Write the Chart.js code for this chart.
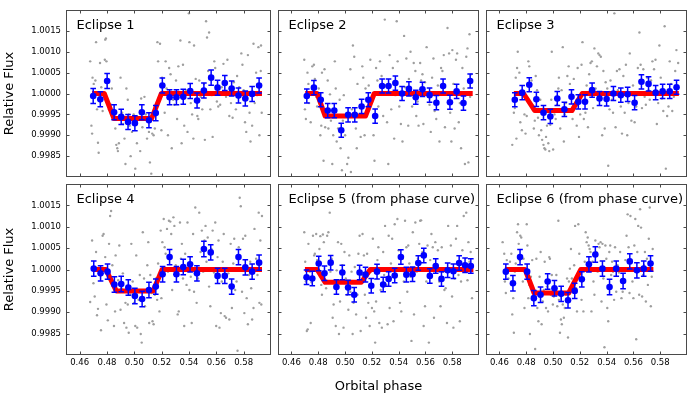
<!DOCTYPE html>
<html>
<head>
<meta charset="utf-8">
<script src="https://cdn.jsdelivr.net/npm/chart.js@4"></script>
<style>
  body { margin: 0; background: #fff; }
  #wrap { position: relative; width: 698px; height: 399px; background: #fff; overflow: hidden; }
  #wrap canvas { position: absolute; }
</style>
</head>
<body>
<div id="wrap"></div>
<script>
// tick labels shared by every panel
var xTicks = [0.46, 0.48, 0.50, 0.52, 0.54, 0.56, 0.58];
var yTicks = [0.9985, 0.9990, 0.9995, 1.0000, 1.0005, 1.0010, 1.0015];
var panelTitles = ["Eclipse 1", "Eclipse 2", "Eclipse 3", "Eclipse 4",
  "Eclipse 5 (from phase curve)", "Eclipse 6 (from phase curve)"];
var binErr = [0.00018, 0.00017, 0.00017, 0.00018, 0.00017, 0.00018];

// binned points (blue)
var binPhase1 = [0.4699,0.4751,0.4801,0.4852,0.4904,0.4954,0.5004,0.5055,0.5107,0.5157,0.5205,0.5258,0.5308,0.5358,0.5409,0.5459,0.5509,0.5562,0.5609,0.5662,0.5712,0.5762,0.5812,0.5862,0.5913];
var binFlux1 = [0.99994,0.99986,1.00030,0.99955,0.99944,0.99932,0.99929,0.99955,0.99936,0.99953,1.00019,0.99991,0.99991,0.99992,1.00006,0.99983,1.00007,1.00038,1.00014,1.00025,1.00012,0.99995,0.99988,0.99999,1.00019];
var binPhase2 = [0.4715,0.4768,0.4819,0.4871,0.4920,0.4972,0.5023,0.5073,0.5124,0.5174,0.5225,0.5277,0.5325,0.5376,0.5426,0.5477,0.5528,0.5578,0.5631,0.5682,0.5732,0.5783,0.5833,0.5884,0.5934];
var binFlux2 = [0.99994,1.00014,0.99985,0.99959,0.99959,0.99912,0.99949,0.99949,0.99969,0.99985,0.99946,1.00018,1.00018,1.00025,1.00000,1.00011,0.99991,1.00010,0.99996,0.99978,1.00018,0.99979,1.00005,0.99977,1.00030];
var binPhase3 = [0.4715,0.4770,0.4823,0.4876,0.4929,0.4980,0.5032,0.5085,0.5138,0.5189,0.5239,0.5292,0.5347,0.5400,0.5451,0.5506,0.5557,0.5609,0.5660,0.5713,0.5766,0.5818,0.5871,0.5922];
var binFlux3 = [0.99985,1.00002,1.00021,0.99986,0.99954,0.99945,0.99988,0.99962,0.99992,0.99980,0.99980,1.00008,0.99988,0.99987,1.00000,0.99996,0.99998,0.99978,1.00028,1.00023,1.00002,1.00005,1.00005,1.00015];
var binPhase4 = [0.4703,0.4753,0.4804,0.4854,0.4904,0.4956,0.5004,0.5057,0.5107,0.5157,0.5207,0.5258,0.5308,0.5358,0.5408,0.5458,0.5509,0.5559,0.5609,0.5662,0.5712,0.5762,0.5812,0.5862,0.5913];
var binFlux4 = [1.00002,0.99991,0.99995,0.99965,0.99966,0.99958,0.99938,0.99931,0.99952,0.99960,0.99989,1.00029,0.99989,1.00006,1.00012,0.99991,1.00048,1.00040,0.99985,0.99985,0.99960,1.00029,1.00005,0.99995,1.00016];
var binPhase5 = [0.4713,0.4756,0.4804,0.4847,0.4893,0.4936,0.4980,0.5023,0.5069,0.5109,0.5153,0.5196,0.5239,0.5285,0.5326,0.5371,0.5417,0.5458,0.5504,0.5547,0.5588,0.5633,0.5677,0.5720,0.5766,0.5809,0.5852,0.5896,0.5939];
var binFlux5 = [0.99982,0.99979,1.00014,0.99991,1.00016,0.99959,0.99993,0.99958,0.99941,0.99993,0.99988,0.99962,0.99995,0.99965,0.99978,0.99986,1.00029,0.99988,0.99989,1.00015,1.00033,0.99985,1.00008,0.99978,0.99998,0.99996,1.00015,1.00010,1.00008];
var binPhase6 = [0.4648,0.4701,0.4754,0.4807,0.4857,0.4907,0.4960,0.5011,0.5061,0.5112,0.5162,0.5215,0.5268,0.5316,0.5369,0.5422,0.5472,0.5523,0.5573,0.5626,0.5677,0.5728];
var binFlux6 = [0.99995,0.99968,1.00029,0.99995,0.99933,0.99941,0.99972,0.99956,0.99943,0.99928,0.99950,0.99977,1.00012,1.00035,1.00002,0.99959,1.00002,0.99973,1.00019,0.99998,1.00002,1.00014];

// eclipse model (red)
var modelPhase1 = [0.4691, 0.4780, 0.4851, 0.5126, 0.5198, 0.5934];
var modelFlux1 = [1.0, 1.0, 0.99940, 0.99940, 1.0, 1.0];
var modelPhase2 = [0.4703, 0.4792, 0.4852, 0.5153, 0.5218, 0.5953];
var modelFlux2 = [1.0, 1.0, 0.99946, 0.99946, 1.0, 1.0];
var modelPhase3 = [0.4708, 0.4780, 0.4864, 0.5141, 0.5218, 0.5939];
var modelFlux3 = [1.0, 1.0, 0.99959, 0.99959, 1.0, 1.0];
var modelPhase4 = [0.4696, 0.4792, 0.4868, 0.5138, 0.5203, 0.5934];
var modelFlux4 = [1.0, 1.0, 0.99950, 0.99950, 1.0, 1.0];
var modelPhase5 = [0.4701, 0.4792, 0.4852, 0.5121, 0.5189, 0.5958];
var modelFlux5 = [1.0, 1.0, 0.99970, 0.99970, 1.0, 1.0];
var modelPhase6 = [0.4641, 0.4792, 0.4859, 0.5117, 0.5208, 0.5749];
var modelFlux6 = [1.0, 1.0, 0.99945, 0.99945, 1.0, 1.0];

// unbinned points (gray)
var grayPhase1 = [0.4677,0.4694,0.4703,0.4686,0.4691,0.4720,0.4715,0.4727,0.4734,0.4739,0.4749,0.4758,0.4768,0.4787,0.4792,0.4784,0.4796,0.4815,0.4830,0.4835,0.4861,0.4868,0.4875,0.4880,0.4887,0.4899,0.4911,0.4918,0.4928,0.4935,0.4942,0.4952,0.4959,0.4966,0.4973,0.4983,0.4995,0.5007,0.5019,0.5031,0.5043,0.5050,0.5059,0.5074,0.5083,0.5093,0.5107,0.5114,0.5124,0.5131,0.5141,0.5150,0.5157,0.5169,0.5174,0.5188,0.5198,0.5203,0.5212,0.5222,0.5229,0.5236,0.5246,0.5255,0.5265,0.5274,0.5284,0.5293,0.5305,0.5313,0.5322,0.5337,0.5346,0.5356,0.5365,0.5377,0.5389,0.5399,0.5403,0.5413,0.5423,0.5432,0.5437,0.5449,0.5461,0.5468,0.5475,0.5485,0.5497,0.5509,0.5516,0.5525,0.5532,0.5540,0.5547,0.5556,0.5566,0.5573,0.5585,0.5592,0.5604,0.5614,0.5628,0.5640,0.5652,0.5664,0.5671,0.5681,0.5695,0.5707,0.5719,0.5728,0.5743,0.5752,0.5767,0.5783,0.5791,0.5800,0.5810,0.5819,0.5831,0.5843,0.5850,0.5862,0.5872,0.5881,0.5891,0.5898,0.5908,0.5915,0.5927,0.5932,0.5925];
var grayFlux1 = [1.00077,1.00038,1.00023,0.99923,0.99904,1.00123,1.00031,0.99962,0.99882,0.99858,1.00073,1.00015,0.99958,1.00129,1.00132,1.00081,1.00077,0.99962,0.99973,1.00012,0.99916,0.99877,0.99869,0.99862,0.99881,1.00038,0.99954,0.99927,0.99892,0.99831,1.00012,0.99985,0.99950,0.99923,0.99850,0.99908,0.99950,0.99820,0.99881,0.99939,0.99862,0.99988,0.99919,0.99992,0.99950,0.99892,0.99908,0.99835,0.99808,0.99904,0.99900,0.99916,0.99962,1.00123,1.00077,1.00119,0.99912,1.00038,1.00004,0.99954,1.00077,1.00012,0.99900,1.00061,1.00046,0.99869,0.99985,0.99973,1.00031,0.99939,1.00065,1.00127,0.99881,1.00069,0.99923,1.00008,0.99908,1.00192,1.00123,0.99977,0.99950,0.99892,1.00115,1.00035,0.99946,0.99939,1.00031,0.99992,0.99962,1.00023,0.99889,1.00173,1.00134,1.00054,1.00146,0.99962,0.99996,0.99896,1.00077,1.00061,0.99981,0.99969,0.99973,1.00015,1.00071,1.00023,0.99992,1.00081,0.99946,0.99977,0.99942,1.00027,0.99962,1.00042,1.00015,1.00096,1.00069,1.00008,0.99931,0.99908,1.00092,0.99954,0.99885,0.99923,1.00119,0.99977,1.00050,0.99996,1.00111,0.99900,1.00115,0.99954,1.00054];
var grayPhase2 = [0.4696,0.4701,0.4708,0.4720,0.4727,0.4732,0.4744,0.4756,0.4768,0.4775,0.4785,0.4792,0.4804,0.4816,0.4823,0.4828,0.4833,0.4840,0.4847,0.4852,0.4859,0.4871,0.4876,0.4888,0.4895,0.4905,0.4912,0.4924,0.4931,0.4938,0.4948,0.4960,0.4967,0.4977,0.4984,0.4991,0.5001,0.5016,0.5025,0.5040,0.5044,0.5052,0.5059,0.5069,0.5081,0.5088,0.5093,0.5105,0.5117,0.5129,0.5136,0.5146,0.5153,0.5165,0.5177,0.5189,0.5201,0.5213,0.5220,0.5232,0.5242,0.5249,0.5261,0.5273,0.5285,0.5297,0.5304,0.5314,0.5323,0.5333,0.5345,0.5357,0.5367,0.5376,0.5386,0.5393,0.5405,0.5417,0.5429,0.5441,0.5448,0.5458,0.5472,0.5477,0.5489,0.5501,0.5513,0.5525,0.5532,0.5542,0.5549,0.5561,0.5568,0.5578,0.5585,0.5597,0.5609,0.5621,0.5631,0.5640,0.5650,0.5660,0.5669,0.5681,0.5693,0.5705,0.5717,0.5727,0.5737,0.5746,0.5761,0.5765,0.5777,0.5785,0.5794,0.5801,0.5809,0.5818,0.5828,0.5837,0.5849,0.5857,0.5866,0.5876,0.5886,0.5895,0.5905,0.5914,0.5921,0.5929,0.5934,0.5941];
var grayFlux2 = [1.00081,0.99962,0.99939,1.00050,1.00023,0.99977,0.99931,1.00065,1.00069,1.00035,0.99992,0.99969,1.00012,0.99900,0.99923,1.00050,0.99985,0.99839,1.00058,0.99919,0.99950,1.00031,0.99916,0.99998,0.99935,0.99831,0.99900,1.00077,1.00012,0.99885,0.99916,0.99985,0.99869,0.99816,0.99935,0.99996,0.99900,0.99831,0.99846,1.00058,0.99812,0.99962,1.00115,1.00088,0.99916,0.99869,1.00023,0.99946,0.99896,1.00065,1.00038,0.99900,1.00012,0.99969,1.00019,1.00081,0.99992,0.99900,0.99839,1.00061,1.00031,0.99969,1.00077,1.00042,0.99946,1.00177,1.00019,0.99931,0.99831,1.00092,0.99962,1.00061,0.99892,0.99996,1.00173,1.00077,0.99969,0.99927,0.99885,1.00138,1.00015,1.00084,0.99923,1.00035,1.00100,0.99969,1.00073,1.00054,0.99946,0.99981,0.99923,1.00073,1.00031,1.00046,0.99927,1.00027,1.00111,0.99992,0.99973,0.99908,1.00038,1.00084,0.99958,0.99939,1.00019,0.99885,1.00061,1.00054,1.00092,0.99919,1.00002,1.00157,1.00096,0.99954,0.99885,1.00104,1.00023,0.99916,1.00081,1.00096,0.99931,0.99977,0.99869,1.00061,1.00012,0.99831,1.00088,1.00108,0.99835,1.00142,0.99992,1.00046];
var grayPhase3 = [0.4696,0.4708,0.4715,0.4722,0.4727,0.4732,0.4737,0.4749,0.4756,0.4768,0.4775,0.4787,0.4795,0.4804,0.4816,0.4823,0.4828,0.4840,0.4847,0.4857,0.4864,0.4871,0.4881,0.4888,0.4895,0.4905,0.4912,0.4919,0.4929,0.4936,0.4943,0.4948,0.4955,0.4965,0.4972,0.4980,0.4987,0.4991,0.5001,0.5011,0.5020,0.5030,0.5040,0.5044,0.5054,0.5064,0.5073,0.5081,0.5088,0.5097,0.5107,0.5117,0.5126,0.5136,0.5146,0.5155,0.5165,0.5177,0.5184,0.5194,0.5203,0.5213,0.5220,0.5230,0.5242,0.5251,0.5261,0.5270,0.5280,0.5290,0.5299,0.5309,0.5318,0.5328,0.5338,0.5347,0.5357,0.5367,0.5376,0.5386,0.5393,0.5405,0.5412,0.5422,0.5429,0.5439,0.5448,0.5458,0.5467,0.5477,0.5484,0.5496,0.5506,0.5515,0.5525,0.5535,0.5544,0.5554,0.5563,0.5573,0.5585,0.5597,0.5609,0.5621,0.5633,0.5645,0.5654,0.5664,0.5674,0.5684,0.5693,0.5703,0.5713,0.5722,0.5732,0.5742,0.5754,0.5765,0.5775,0.5785,0.5794,0.5804,0.5813,0.5823,0.5833,0.5842,0.5852,0.5862,0.5871,0.5881,0.5890,0.5902,0.5912,0.5921,0.5934];
var grayFlux3 = [0.99877,0.99954,0.99965,1.00038,0.99892,1.00061,1.00100,1.00050,0.99931,0.99912,0.99996,0.99950,0.99904,0.99946,1.00077,1.00065,0.99977,1.00031,0.99962,0.99916,0.99935,1.00042,1.00008,0.99942,0.99900,0.99985,0.99912,0.99889,0.99877,0.99869,0.99866,0.99896,0.99923,0.99881,0.99862,0.99925,0.99985,1.00100,0.99866,0.99950,0.99939,0.99973,1.00012,1.00038,0.99916,1.00008,1.00111,0.99885,0.99950,0.99977,1.00042,1.00065,1.00023,0.99962,0.99939,1.00035,0.99969,0.99923,1.00061,0.99896,0.99950,1.00069,1.00123,0.99939,0.99954,1.00019,0.99919,1.00046,1.00073,1.00077,0.99965,1.00108,1.00012,1.00065,1.00096,1.00092,1.00088,0.99900,1.00054,0.99916,1.00027,1.00012,0.99827,0.99962,1.00031,0.99985,0.99954,1.00192,0.99919,1.00054,1.00008,1.00058,0.99969,0.99904,1.00042,0.99954,1.00069,0.99900,0.99977,1.00096,0.99935,1.00019,0.99931,0.99969,1.00061,1.00146,1.00069,0.99965,1.00058,0.99992,0.99973,1.00038,1.00008,0.99985,1.00031,1.00077,1.00058,1.00081,0.99927,0.99977,1.00115,1.00038,0.99988,0.99958,1.00161,0.99820,0.99946,0.99969,1.00077,1.00023,0.99958,0.99992,1.00054,1.00104,1.00073];
var grayPhase4 = [0.4677,0.4691,0.4701,0.4710,0.4720,0.4727,0.4734,0.4744,0.4756,0.4768,0.4775,0.4787,0.4796,0.4806,0.4815,0.4823,0.4830,0.4839,0.4851,0.4859,0.4863,0.4875,0.4882,0.4890,0.4899,0.4906,0.4916,0.4925,0.4935,0.4942,0.4952,0.4959,0.4971,0.4978,0.4988,0.4997,0.5007,0.5014,0.5021,0.5031,0.5040,0.5047,0.5054,0.5062,0.5071,0.5078,0.5086,0.5095,0.5102,0.5109,0.5117,0.5126,0.5133,0.5141,0.5150,0.5157,0.5167,0.5174,0.5184,0.5193,0.5198,0.5205,0.5215,0.5222,0.5229,0.5239,0.5246,0.5253,0.5263,0.5270,0.5277,0.5286,0.5293,0.5303,0.5310,0.5317,0.5325,0.5334,0.5341,0.5348,0.5356,0.5365,0.5372,0.5382,0.5389,0.5396,0.5403,0.5413,0.5420,0.5430,0.5437,0.5446,0.5456,0.5466,0.5475,0.5485,0.5494,0.5504,0.5513,0.5521,0.5528,0.5537,0.5547,0.5556,0.5564,0.5573,0.5583,0.5592,0.5599,0.5609,0.5616,0.5623,0.5633,0.5640,0.5647,0.5654,0.5661,0.5671,0.5678,0.5688,0.5695,0.5705,0.5714,0.5724,0.5731,0.5738,0.5748,0.5755,0.5764,0.5771,0.5779,0.5788,0.5795,0.5805,0.5812,0.5822,0.5831,0.5838,0.5848,0.5855,0.5862,0.5872,0.5879,0.5891,0.5901,0.5910,0.5915,0.5922,0.5929,0.5934];
var grayFlux4 = [0.99924,1.00068,0.99968,0.99937,1.00041,0.99893,0.99908,0.99995,0.99858,1.00079,1.00083,1.00029,0.99918,0.99881,1.00060,1.00125,1.00137,1.00010,0.99868,0.99902,1.00033,0.99948,0.99975,1.00056,0.99906,0.99956,0.99991,0.99875,0.99922,0.99864,0.99918,0.99852,0.99941,1.00060,0.99972,0.99922,0.99868,1.00033,0.99864,0.99929,0.99987,0.99849,0.99829,1.00087,0.99979,0.99914,0.99952,1.00010,1.00064,0.99875,0.99987,0.99945,0.99879,0.99872,0.99941,0.99979,0.99929,1.00014,0.99902,1.00091,0.99933,1.00064,1.00118,1.00052,1.00037,1.00095,0.99995,1.00114,1.00112,1.00083,0.99952,1.00122,1.00102,1.00010,0.99995,0.99895,0.99902,1.00110,1.00025,1.00060,0.99979,0.99868,1.00037,0.99964,1.00110,1.00006,0.99952,0.99983,0.99875,1.00083,0.99948,1.00145,0.99922,0.99979,1.00133,1.00041,1.00091,0.99995,1.00068,1.00102,1.00018,1.00075,0.99960,0.99914,1.00048,1.00091,0.99993,1.00110,0.99868,1.00029,1.00068,0.99864,0.99898,0.99972,1.00018,1.00083,0.99891,0.99887,1.00002,0.99991,0.99883,1.00060,0.99910,1.00014,1.00072,0.99952,0.99972,0.99810,1.00052,1.00168,1.00148,0.99948,1.00072,0.99898,1.00079,0.99933,0.99872,0.99987,1.00018,0.99956,0.99883,0.99910,1.00095,1.00025,0.99987,1.00133,0.99922,1.00068,0.99918,1.00125];
var grayPhase5 = [0.4696,0.4703,0.4708,0.4715,0.4722,0.4727,0.4737,0.4744,0.4751,0.4761,0.4770,0.4775,0.4785,0.4792,0.4799,0.4809,0.4816,0.4823,0.4828,0.4835,0.4842,0.4852,0.4859,0.4867,0.4876,0.4886,0.4891,0.4900,0.4908,0.4915,0.4924,0.4931,0.4938,0.4948,0.4955,0.4963,0.4972,0.4980,0.4989,0.4996,0.5006,0.5016,0.5025,0.5032,0.5040,0.5049,0.5057,0.5064,0.5073,0.5083,0.5093,0.5100,0.5109,0.5117,0.5124,0.5131,0.5141,0.5148,0.5157,0.5165,0.5174,0.5184,0.5194,0.5201,0.5208,0.5218,0.5225,0.5232,0.5242,0.5249,0.5256,0.5266,0.5275,0.5285,0.5292,0.5299,0.5309,0.5318,0.5326,0.5333,0.5343,0.5352,0.5362,0.5371,0.5381,0.5391,0.5400,0.5410,0.5420,0.5429,0.5439,0.5448,0.5458,0.5465,0.5472,0.5480,0.5489,0.5496,0.5506,0.5515,0.5525,0.5535,0.5544,0.5554,0.5561,0.5568,0.5578,0.5587,0.5597,0.5607,0.5616,0.5626,0.5636,0.5645,0.5655,0.5664,0.5674,0.5684,0.5693,0.5703,0.5713,0.5722,0.5732,0.5742,0.5751,0.5761,0.5770,0.5780,0.5790,0.5799,0.5809,0.5818,0.5828,0.5837,0.5847,0.5857,0.5866,0.5876,0.5886,0.5895,0.5905,0.5914,0.5921,0.5929,0.5938,0.5948];
var grayFlux5 = [1.00087,1.00018,0.99972,0.99856,0.99860,1.00060,0.99995,0.99875,0.99970,1.00079,1.00033,1.00037,1.00083,1.00022,0.99994,1.00048,1.00078,0.99964,0.99941,1.00082,1.00064,0.99994,0.99956,1.00079,1.00087,1.00133,0.99995,1.00025,0.99887,0.99918,0.99960,0.99868,0.99998,1.00064,0.99849,0.99925,1.00060,1.00010,0.99864,1.00041,0.99979,0.99941,0.99906,1.00033,0.99948,0.99995,0.99849,0.99922,1.00006,0.99895,0.99941,1.00037,1.00079,0.99856,0.99987,1.00083,1.00033,0.99941,0.99887,1.00037,0.99922,0.99868,0.99995,0.99910,1.00072,0.99902,0.99829,0.99925,1.00022,1.00052,0.99875,0.99952,0.99864,1.00041,0.99987,1.00102,0.99964,0.99872,1.00079,0.99910,1.00014,1.00072,0.99879,1.00106,0.99987,1.00118,1.00045,0.99922,0.99902,1.00025,0.99972,1.00114,1.00052,0.99948,1.00056,1.00014,0.99983,0.99833,1.00087,0.99895,1.00110,0.99995,1.00025,1.00060,1.00114,1.00115,1.00041,0.99868,0.99914,0.99972,1.00056,0.99829,1.00022,1.00083,1.00052,0.99887,1.00064,1.00010,1.00045,0.99972,0.99914,1.00052,0.99995,0.99952,0.99956,0.99875,1.00102,1.00002,1.00056,0.99937,0.99864,0.99979,1.00072,1.00102,0.99987,0.99879,0.99972,1.00045,1.00125,1.00010,1.00133,0.99975,1.00064,1.00018,1.00041,0.99933];
var grayPhase6 = [0.4624,0.4636,0.4641,0.4648,0.4655,0.4660,0.4667,0.4679,0.4689,0.4696,0.4703,0.4708,0.4715,0.4722,0.4732,0.4739,0.4744,0.4751,0.4756,0.4763,0.4768,0.4775,0.4780,0.4787,0.4795,0.4804,0.4809,0.4816,0.4823,0.4828,0.4835,0.4845,0.4852,0.4859,0.4867,0.4876,0.4883,0.4891,0.4900,0.4908,0.4915,0.4924,0.4931,0.4938,0.4948,0.4955,0.4963,0.4972,0.4977,0.4984,0.4991,0.4999,0.5006,0.5016,0.5025,0.5032,0.5040,0.5044,0.5052,0.5059,0.5066,0.5073,0.5081,0.5088,0.5097,0.5105,0.5112,0.5119,0.5126,0.5134,0.5141,0.5148,0.5158,0.5165,0.5172,0.5179,0.5189,0.5196,0.5203,0.5213,0.5220,0.5227,0.5237,0.5244,0.5251,0.5259,0.5266,0.5273,0.5280,0.5287,0.5295,0.5302,0.5309,0.5316,0.5323,0.5333,0.5340,0.5347,0.5355,0.5362,0.5369,0.5376,0.5384,0.5391,0.5398,0.5405,0.5412,0.5420,0.5427,0.5434,0.5441,0.5448,0.5456,0.5463,0.5472,0.5482,0.5492,0.5501,0.5511,0.5520,0.5530,0.5540,0.5549,0.5557,0.5564,0.5571,0.5578,0.5585,0.5593,0.5600,0.5607,0.5614,0.5621,0.5629,0.5636,0.5643,0.5650,0.5657,0.5665,0.5672,0.5679,0.5686,0.5693,0.5701,0.5708,0.5715,0.5722,0.5730,0.5737,0.5744];
var grayFlux6 = [1.00064,1.00037,0.99972,0.99945,1.00022,1.00002,0.99979,1.00018,1.00037,0.99895,0.99933,0.99852,0.99995,1.00014,1.00087,1.00106,1.00060,1.00022,1.00079,1.00075,1.00002,0.99972,1.00025,0.99910,0.99995,1.00106,1.00056,0.99933,0.99964,0.99849,0.99983,1.00022,0.99956,0.99933,0.99814,1.00025,0.99910,0.99879,0.99983,1.00041,0.99872,0.99925,0.99952,1.00018,0.99910,0.99960,0.99902,1.00029,1.00025,0.99941,0.99987,0.99918,0.99937,0.99956,0.99987,0.99914,1.00114,0.99929,0.99852,0.99883,0.99872,0.99918,0.99887,0.99910,0.99941,0.99979,0.99841,0.99972,1.00002,1.00048,0.99979,0.99964,1.00010,1.00102,0.99956,0.99902,1.00106,1.00037,0.99979,0.99929,1.00002,0.99902,1.00018,1.00087,1.00064,1.00075,1.00056,1.00048,1.00041,0.99902,1.00018,0.99972,0.99941,1.00068,1.00041,0.99995,1.00060,1.00052,1.00064,0.99925,1.00060,0.99979,0.99818,1.00056,1.00025,0.99910,0.99879,1.00041,1.00056,0.99987,1.00018,0.99995,0.99929,1.00052,0.99948,1.00010,0.99993,1.00041,0.99933,0.99948,0.99972,1.00022,1.00079,1.00129,1.00052,0.99945,1.00125,1.00002,0.99972,0.99933,1.00056,1.00118,0.99837,1.00041,1.00102,0.99941,1.00141,1.00098,0.99937,0.99987,1.00010,1.00041,0.99925,1.00025,0.99964,1.00072,1.00145,0.99914,0.99983,1.00048];

var panels = [
  { gp: grayPhase1, gf: grayFlux1, bp: binPhase1, bf: binFlux1, mp: modelPhase1, mf: modelFlux1 },
  { gp: grayPhase2, gf: grayFlux2, bp: binPhase2, bf: binFlux2, mp: modelPhase2, mf: modelFlux2 },
  { gp: grayPhase3, gf: grayFlux3, bp: binPhase3, bf: binFlux3, mp: modelPhase3, mf: modelFlux3 },
  { gp: grayPhase4, gf: grayFlux4, bp: binPhase4, bf: binFlux4, mp: modelPhase4, mf: modelFlux4 },
  { gp: grayPhase5, gf: grayFlux5, bp: binPhase5, bf: binFlux5, mp: modelPhase5, mf: modelFlux5 },
  { gp: grayPhase6, gf: grayFlux6, bp: binPhase6, bf: binFlux6, mp: modelPhase6, mf: modelFlux6 }
];

var FONT = "'DejaVu Sans', sans-serif";

function toPoints(xs, ys) {
  var pts = [];
  var n = Math.min(xs.length, ys.length);
  for (var i = 0; i < n; i++) {
    pts.push({ x: xs[i], y: ys[i] });
  }
  return pts;
}

// keep every panel's plot box at a fixed size, no label overflow padding
function noPadding(s) {
  s.paddingTop = 0;
  s.paddingBottom = 0;
  s.paddingLeft = 0;
  s.paddingRight = 0;
}

// error bars, frame, inward ticks and panel title
var panelPlugin = {
  id: "panel",
  afterDatasetsDraw: function (chart, args, opts) {
    var ctx = chart.ctx, xs = chart.scales.x, ys = chart.scales.y;
    ctx.save();
    ctx.strokeStyle = "#0000ff";
    ctx.lineWidth = 1.5;
    chart.data.datasets[2].data.forEach(function (p) {
      var px = xs.getPixelForValue(p.x);
      var t = ys.getPixelForValue(p.y + opts.err);
      var b = ys.getPixelForValue(p.y - opts.err);
      ctx.beginPath();
      ctx.moveTo(px, t); ctx.lineTo(px, b);
      ctx.moveTo(px - 2.8, t); ctx.lineTo(px + 2.8, t);
      ctx.moveTo(px - 2.8, b); ctx.lineTo(px + 2.8, b);
      ctx.stroke();
    });
    ctx.restore();
  },
  afterDraw: function (chart, args, opts) {
    var ctx = chart.ctx, a = chart.chartArea;
    var xs = chart.scales.x, ys = chart.scales.y;
    ctx.save();
    ctx.strokeStyle = "#4a4a4a";
    ctx.lineWidth = 1;
    ctx.strokeRect(a.left + 0.5, a.top + 0.5, a.right - a.left - 1, a.bottom - a.top - 1);
    ctx.beginPath();
    xTicks.forEach(function (v) {
      var px = Math.round(xs.getPixelForValue(v)) + 0.5;
      ctx.moveTo(px, a.top); ctx.lineTo(px, a.top + 3.5);
      ctx.moveTo(px, a.bottom); ctx.lineTo(px, a.bottom - 3.5);
    });
    yTicks.forEach(function (v) {
      var py = Math.round(ys.getPixelForValue(v)) + 0.5;
      ctx.moveTo(a.left, py); ctx.lineTo(a.left + 3.5, py);
      ctx.moveTo(a.right, py); ctx.lineTo(a.right - 3.5, py);
    });
    ctx.stroke();
    ctx.fillStyle = "#000";
    ctx.font = "13px " + FONT;
    ctx.textBaseline = "alphabetic";
    ctx.fillText(opts.title, a.left + 10.5, a.top + 19);
    ctx.restore();
  }
};

var colLeft = [0, 274, 482];
var rowTop = [6, 180];
var wrap = document.getElementById("wrap");

panels.forEach(function (p, i) {
  var col = i % 3, row = Math.floor(i / 3);
  var showX = row === 1, showY = col === 0;
  var w = showY ? 275 : 209;
  var h = showX ? 219 : 175;
  var canvas = document.createElement("canvas");
  canvas.width = w;
  canvas.height = h;
  canvas.style.left = colLeft[col] + "px";
  canvas.style.top = rowTop[row] + "px";
  canvas.style.width = w + "px";
  canvas.style.height = h + "px";
  wrap.appendChild(canvas);

  new Chart(canvas, {
    type: "scatter",
    data: {
      datasets: [
        {
          data: toPoints(p.gp, p.gf),
          pointRadius: 1.2,
          pointBorderWidth: 0,
          backgroundColor: "#9e9e9e",
          order: 3
        },
        {
          data: toPoints(p.mp, p.mf),
          showLine: true,
          borderColor: "#ff0000",
          borderWidth: 5,
          borderJoinStyle: "round",
          pointRadius: 0,
          tension: 0,
          fill: false,
          order: 2
        },
        {
          data: toPoints(p.bp, p.bf),
          pointRadius: 3.3,
          pointBorderWidth: 0,
          backgroundColor: "#0000ff",
          order: 1
        }
      ]
    },
    options: {
      responsive: false,
      animation: false,
      devicePixelRatio: 1,
      events: [],
      layout: { padding: 0 },
      plugins: {
        legend: { display: false },
        tooltip: { enabled: false },
        panel: { title: panelTitles[i], err: binErr[i] }
      },
      scales: {
        x: {
          type: "linear",
          min: 0.45,
          max: 0.60,
          display: showX,
          afterBuildTicks: function (s) { s.ticks = xTicks.map(function (v) { return { value: v }; }); },
          afterFit: function (s) { s.height = showX ? 44 : 0; noPadding(s); },
          grid: { display: false, drawTicks: false },
          border: { display: false },
          ticks: {
            autoSkip: false, maxRotation: 0, padding: 3, color: "#000",
            font: { family: FONT, size: 8.5 },
            callback: function (v) { return v.toFixed(2); }
          },
          title: {
            display: i === 4, text: "Orbital phase", color: "#000",
            font: { family: FONT, size: 13 },
            padding: { top: 0, bottom: 4.5 }
          }
        },
        y: {
          type: "linear",
          min: 0.998,
          max: 1.002,
          display: showY,
          afterBuildTicks: function (s) { s.ticks = yTicks.map(function (v) { return { value: v }; }); },
          afterFit: function (s) { s.width = showY ? 66 : 0; noPadding(s); },
          grid: { display: false, drawTicks: false },
          border: { display: false },
          ticks: {
            autoSkip: false, padding: 5, color: "#000",
            font: { family: FONT, size: 8.5 },
            callback: function (v) { return v.toFixed(4); }
          },
          title: {
            display: true, text: "Relative Flux", color: "#000",
            font: { family: FONT, size: 13 },
            padding: { top: 2, bottom: 0 }
          }
        }
      }
    },
    plugins: [panelPlugin]
  });
});
</script>
</body>
</html>
